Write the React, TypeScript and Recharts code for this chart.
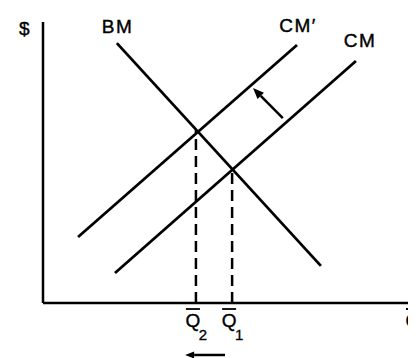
import React from 'react';
import { LineChart, Line, XAxis, YAxis, ReferenceLine, ReferenceDot } from 'recharts';

// Curves (data units: Q on x 0-100, $ on y 0-100)
const bmCurve = [
  { x: 19.8, y: 92.5 },
  { x: 74.5, y: 13.2 },
];
const cmPrimeCurve = [
  { x: 9.4, y: 23.5 },
  { x: 68.1, y: 91.8 },
];
const cmCurve = [
  { x: 19.3, y: 10.7 },
  { x: 83.9, y: 86.1 },
];

// Equilibria
const q2Point = { x: 41.0, y: 61.6 };
const q1Point = { x: 50.7, y: 47.7 };

// X tick positions and their subscripts
const xTicks = [41.0, 50.7, 100];
const xTickSubs = ['2', '1', ''];

// Curve labels
const curveLabels = [
  { text: '$', x: -4.8, y: 95.4 },
  { text: 'BM', x: 20.0, y: 96.1 },
  { text: 'CM\u2032', x: 68.4, y: 96.4 },
  { text: 'CM', x: 85.0, y: 91.1 },
];

// Shift arrows
const shiftArrows = [
  { from: { x: 64.3, y: 65.8 }, to: { x: 56.3, y: 76.5 }, head: 11, half: 4.5 },
  { from: { x: 48.8, y: -18.5 }, to: { x: 38.1, y: -18.5 }, head: 9, half: 3.5 },
];

const W = 408;
const H = 350;
const X_AXIS_H = 55;
const Y_AXIS_W = 35;
const MARGIN = { top: 14, right: 0, bottom: 0, left: 0 };
const AXIS_Y = H - X_AXIS_H;
const FONT = '"Liberation Sans", Arial, sans-serif';

const QTick = (props: any) => {
  const { x, payload } = props;
  const idx = xTicks.indexOf(payload.value);
  const sub = idx >= 0 ? xTickSubs[idx] : '';
  const qx = x - 3;
  return (
    <g>
      <line x1={qx - 7} x2={qx + 7} y1={AXIS_Y + 6} y2={AXIS_Y + 6} stroke="#000" strokeWidth={1.8} />
      <text x={qx} y={AXIS_Y + 24} textAnchor="middle" fontFamily={FONT} fontSize={19} fill="#000" stroke="#000" strokeWidth={0.4}>
        Q
      </text>
      {sub ? (
        <text x={x + 7} y={AXIS_Y + 37} textAnchor="middle" fontFamily={FONT} fontSize={15} fill="#000" stroke="#000" strokeWidth={0.3}>
          {sub}
        </text>
      ) : null}
    </g>
  );
};

const makeArrowShape = (head: number, half: number) => (p: any) => {
  const { x1, y1, x2, y2 } = p;
  const dx = x2 - x1;
  const dy = y2 - y1;
  const len = Math.sqrt(dx * dx + dy * dy) || 1;
  const ux = dx / len;
  const uy = dy / len;
  const bx = x2 - ux * head;
  const by = y2 - uy * head;
  const px = -uy;
  const py = ux;
  const pts = `${x2},${y2} ${bx + px * half},${by + py * half} ${bx - px * half},${by - py * half}`;
  return (
    <g>
      <line x1={x1} y1={y1} x2={bx} y2={by} stroke="#000" strokeWidth={2.5} />
      <polygon points={pts} fill="#000" />
    </g>
  );
};

const makeLabelShape = (text: string) => (p: any) => (
  <text
    x={p.cx}
    y={p.cy}
    textAnchor="middle"
    fontFamily={FONT}
    fontSize={19}
    letterSpacing={1.5}
    fill="#000"
    stroke="#000"
    strokeWidth={0.4}
  >
    {text}
  </text>
);

export default function App() {
  return (
    <LineChart width={W} height={H} margin={MARGIN}>
      <XAxis
        type="number"
        dataKey="x"
        domain={[0, 100]}
        ticks={xTicks}
        interval={0}
        tick={<QTick />}
        tickLine={false}
        axisLine={{ stroke: '#000', strokeWidth: 2.5 }}
        height={X_AXIS_H}
        allowDataOverflow
      />
      <YAxis
        type="number"
        dataKey="y"
        domain={[0, 100]}
        tick={false}
        tickLine={false}
        axisLine={{ stroke: '#000', strokeWidth: 2.5 }}
        width={Y_AXIS_W}
        allowDataOverflow
      />
      <ReferenceLine
        segment={[{ x: q2Point.x, y: 0 }, { x: q2Point.x, y: q2Point.y }]}
        stroke="#000"
        strokeWidth={2.5}
        strokeDasharray="11 6"
      />
      <ReferenceLine
        segment={[{ x: q1Point.x, y: 0 }, { x: q1Point.x, y: q1Point.y }]}
        stroke="#000"
        strokeWidth={2.5}
        strokeDasharray="11 6"
      />
      <Line data={bmCurve} dataKey="y" type="linear" stroke="#000" strokeWidth={2.8} dot={false} isAnimationActive={false} />
      <Line data={cmPrimeCurve} dataKey="y" type="linear" stroke="#000" strokeWidth={2.8} dot={false} isAnimationActive={false} />
      <Line data={cmCurve} dataKey="y" type="linear" stroke="#000" strokeWidth={2.8} dot={false} isAnimationActive={false} />
      {shiftArrows.map((a, i) => (
        <ReferenceLine
          key={`arrow-${i}`}
          segment={[a.from, a.to]}
          ifOverflow="visible"
          shape={makeArrowShape(a.head, a.half)}
        />
      ))}
      {curveLabels.map((l, i) => (
        <ReferenceDot
          key={`lab-${i}`}
          x={l.x}
          y={l.y}
          r={0}
          ifOverflow="visible"
          shape={makeLabelShape(l.text)}
        />
      ))}
    </LineChart>
  );
}
